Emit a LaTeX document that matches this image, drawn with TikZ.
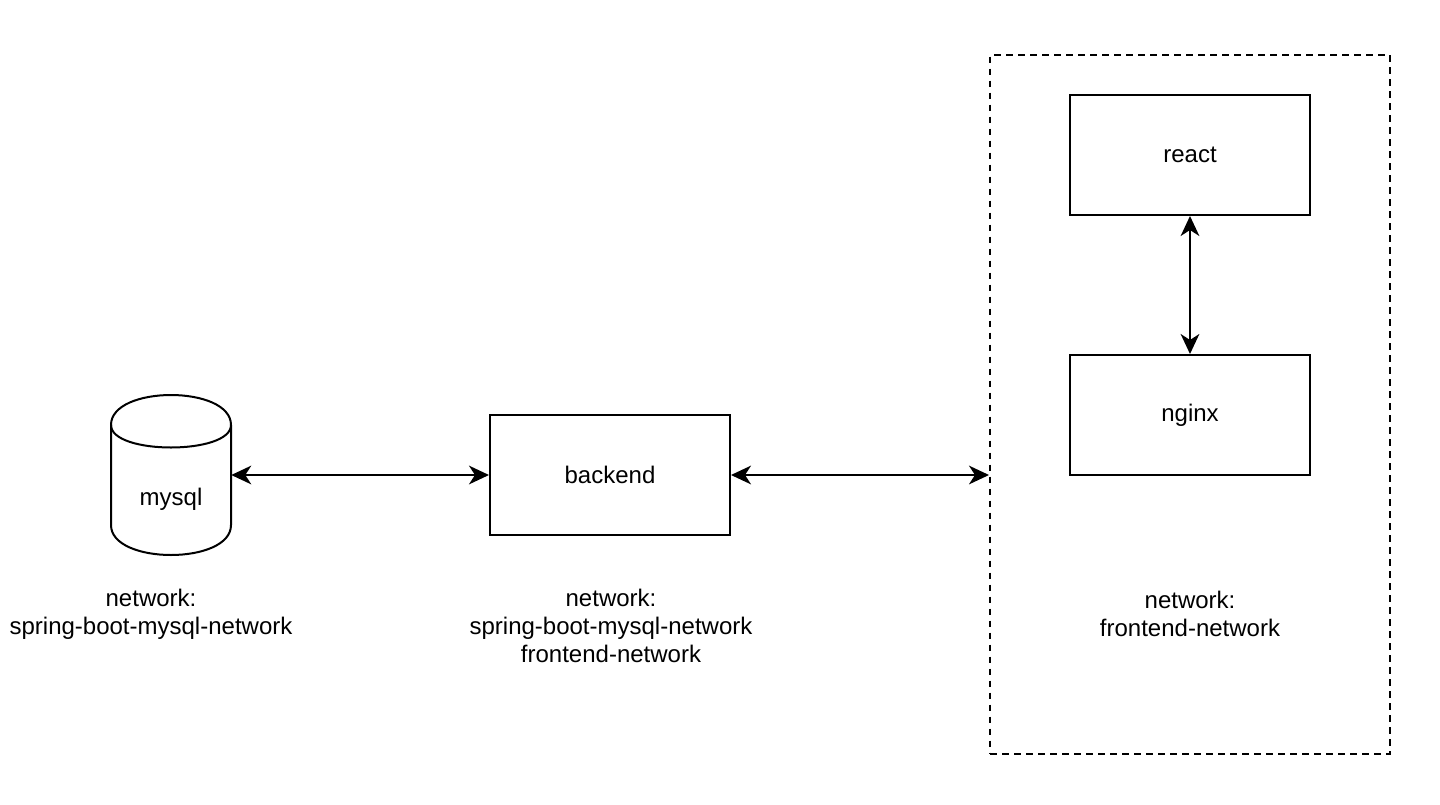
\documentclass[tikz,border=0pt]{standalone}
\usepackage{fontspec}
\setmainfont{Liberation Sans}
\usetikzlibrary{arrows.meta}

\begin{document}
\begin{tikzpicture}[x=0.75pt,y=-0.75pt,
    every node/.style={font=\fontsize{18pt}{21pt}\selectfont},
    box/.style={draw,line width=1.5pt,minimum width=180pt,minimum height=90pt},
    link/.style={line width=1.5pt,{Stealth[length=15pt,width=14pt,inset=4.5pt]}-{Stealth[length=15pt,width=14pt,inset=4.5pt]}}]
    \useasboundingbox (0,0) rectangle (1440,804);

    % Draw the frontend group
    \node[draw,line width=1.5pt,dash pattern=on 5pt off 4pt,minimum width=300pt,minimum height=524pt] (frontend) at (1190,404.5) {};

    % Draw the containers
    \foreach \name/\x/\y in {backend/610/475, react/1190/155, nginx/1190/415}
        \node[box] (\name) at (\x,\y) {\name};

    % Draw the database cylinder
    \node[minimum width=90pt,minimum height=120pt] (mysql) at (171,475) {};
    \draw[line width=1.5pt] (111,425) .. controls (111,385) and (231,385) .. (231,425) -- (231,525)
        .. controls (231,565) and (111,565) .. (111,525) -- cycle;
    \draw[line width=1.5pt] (111,425) .. controls (111,455) and (231,455) .. (231,425);
    \node[yshift=-18pt] (mysqltext) at (mysql.center) {mysql};

    % Draw the links
    \draw[link] (mysql.east) -- (backend.west);
    \draw[link] (backend.east) -- (backend.east -| frontend.west);
    \draw[link] (react.south) -- (nginx.north);

    % Draw the network labels
    \node[align=center] (mysqlnet) at (151,614) {network:\\spring-boot-mysql-network};
    \node[align=center] (backendnet) at (611,626) {network:\\spring-boot-mysql-network\\frontend-network};
    \node[align=center] (frontendnet) at (1190,614) {network:\\frontend-network};

\end{tikzpicture}
\end{document}
